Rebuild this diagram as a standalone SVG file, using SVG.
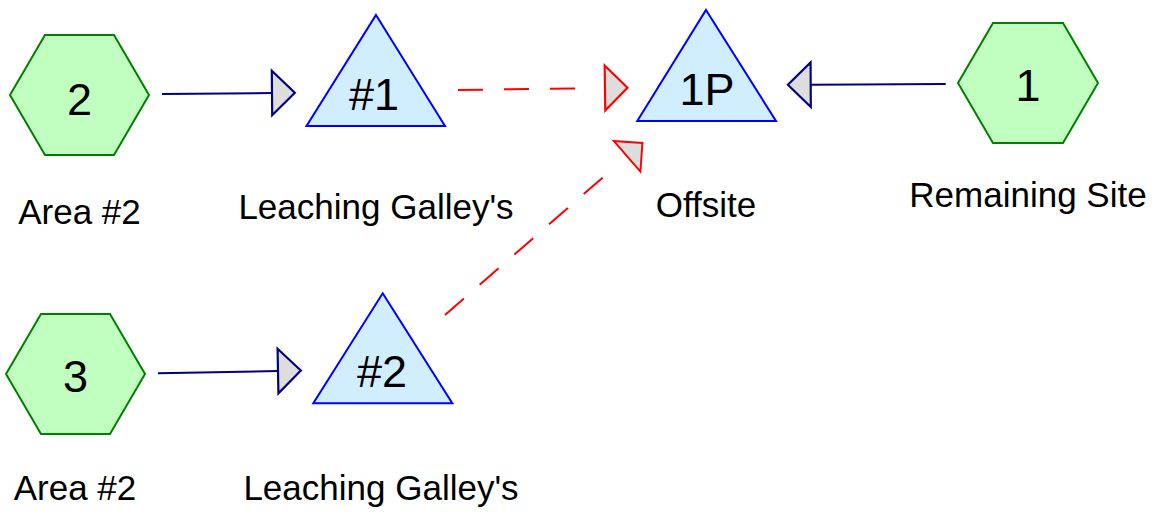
<svg xmlns="http://www.w3.org/2000/svg" width="1157" height="512" viewBox="0 0 1157 512">
  <style>
    .hex { fill: #c0ffc0; stroke: #008000; stroke-width: 2; }
    .tri { fill: #d0eeff; stroke: #0000ff; stroke-width: 2; stroke-linejoin: miter; }
    .num { font-family: "Liberation Sans", Arial, sans-serif; font-size: 45px; fill: #000; text-anchor: middle; }
    .lbl { font-family: "Liberation Sans", Arial, sans-serif; font-size: 35px; fill: #000; text-anchor: middle; }
    .solid { fill: none; stroke: #000080; stroke-width: 2; }
    .dash { fill: none; stroke: #ff0000; stroke-width: 2; stroke-dasharray: 25 21; }
  </style>
  <defs>
    <marker id="arrBlue" markerUnits="userSpaceOnUse" markerWidth="30" markerHeight="50" viewBox="-2 -23 26 46" refX="0" refY="0" orient="auto">
      <polygon points="0,-20.5 21,0 0,20.5" fill="#dddddd" stroke="#000080" stroke-width="2" stroke-linejoin="miter"/>
    </marker>
    <marker id="arrRed1" markerUnits="userSpaceOnUse" markerWidth="60" markerHeight="50" viewBox="-30 -23 56 46" refX="-27.5" refY="0" orient="auto">
      <polygon points="0,-21 21,0 0,21" fill="#dddddd" stroke="#ff0000" stroke-width="2" stroke-linejoin="miter"/>
    </marker>
    <marker id="arrRed2" markerUnits="userSpaceOnUse" markerWidth="60" markerHeight="50" viewBox="-36 -23 62 46" refX="-33" refY="0" orient="auto">
      <polygon points="0,-21 21,0 0,21" fill="#dddddd" stroke="#ff0000" stroke-width="2" stroke-linejoin="miter"/>
    </marker>
  </defs>

  <g id="connectors">
    <path class="solid" d="M162,94 L272,93" marker-end="url(#arrBlue)"/>
    <path class="solid" d="M158,373.3 L278,371" marker-end="url(#arrBlue)"/>
    <path class="solid" d="M945.7,84 L810.7,84.7" marker-end="url(#arrBlue)"/>
    <path class="dash" d="M458,90 L575.5,88.4" marker-end="url(#arrRed1)"/>
    <path class="dash" d="M445,315 L603,177.3" marker-end="url(#arrRed2)"/>
  </g>

  <g id="node-2">
    <polygon class="hex" points="10,95 45,35 114,35 149,95 114,155 45,155"/>
    <text class="num" x="79.5" y="115">2</text>
    <text class="lbl" x="79.5" y="224">Area #2</text>
  </g>

  <g id="node-3">
    <polygon class="hex" points="6,374 41,314 110,314 145,374 110,434 41,434"/>
    <text class="num" x="75.5" y="392">3</text>
    <text class="lbl" x="75" y="500">Area #2</text>
  </g>

  <g id="node-1">
    <polygon class="hex" points="958,83 993,23 1063,23 1098,83 1063,143 993,143"/>
    <text class="num" x="1028" y="101">1</text>
    <text class="lbl" x="1028" y="207">Remaining Site</text>
  </g>

  <g id="node-g1">
    <polygon class="tri" points="376,15 445,126 306.5,126"/>
    <text class="num" x="374" y="110">#1</text>
    <text class="lbl" x="376" y="219">Leaching Galley's</text>
  </g>

  <g id="node-g2">
    <polygon class="tri" points="382.7,293.3 452.3,403.3 313.3,403.3"/>
    <text class="num" x="382" y="387">#2</text>
    <text class="lbl" x="381" y="500">Leaching Galley's</text>
  </g>

  <g id="node-1p">
    <polygon class="tri" points="706,10 776,121 637.3,121"/>
    <text class="num" x="707" y="105">1P</text>
    <text class="lbl" x="706" y="216.7">Offsite</text>
  </g>
</svg>
